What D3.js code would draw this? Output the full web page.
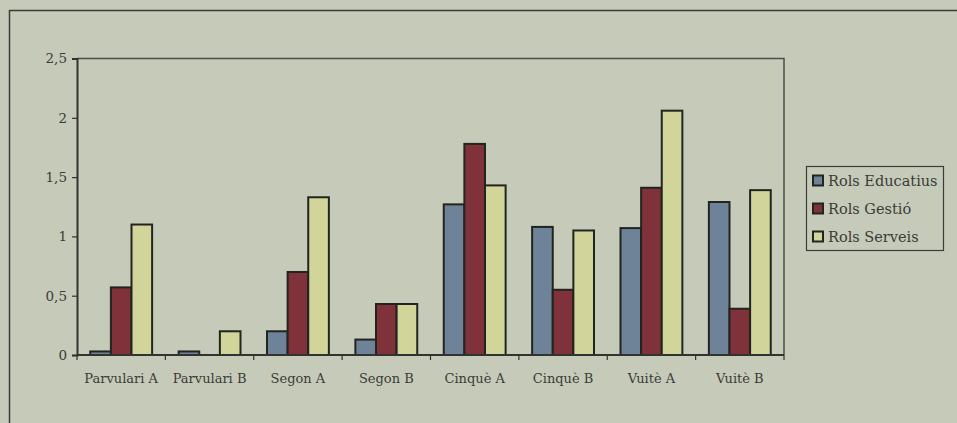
<!DOCTYPE html>
<html>
<head>
<meta charset="utf-8">
<script src="https://cdn.jsdelivr.net/npm/d3@7"></script>
<style>
  html, body { margin: 0; padding: 0; background: #c6cab9; }
  svg { display: block; }
</style>
</head>
<body>
<svg id="chart" width="957" height="423"></svg>
<script>
// Groups along the x axis
const categories = ["Parvulari A", "Parvulari B", "Segon A", "Segon B", "Cinquè A", "Cinquè B", "Vuitè A", "Vuitè B"];
// Series names, as shown in the legend
const seriesNames = ["Rols Educatius", "Rols Gestió", "Rols Serveis"];
// Values per series, one per group
const educatius = [0.03, 0.03, 0.20, 0.13, 1.27, 1.08, 1.07, 1.29];
const gestio    = [0.57, 0.00, 0.70, 0.43, 1.78, 0.55, 1.41, 0.39];
const serveis   = [1.10, 0.20, 1.33, 0.43, 1.43, 1.05, 2.06, 1.39];
// Y axis ticks and their labels
const yTicks = [0, 0.5, 1, 1.5, 2, 2.5];
const yTickLabels = ["0", "0,5", "1", "1,5", "2", "2,5"];

const seriesValues = [educatius, gestio, serveis];
const colors = ["#6f8398", "#7f323a", "#d2d59a"];
const stroke = "#222420";
const FONT = "DejaVu Serif";
const textColor = "#3a3c38";

const svg = d3.select("#chart");
const W = 957, H = 423;
const plot = { left: 77, right: 784, top: 58.5, bottom: 355 };

// Outer frame of the chart area
svg.append("rect")
  .attr("x", 9.5).attr("y", 10.5)
  .attr("width", W + 20).attr("height", H + 20)
  .attr("fill", "none").attr("stroke", "#3a3d38").attr("stroke-width", 1.5);

const x0 = d3.scaleBand().domain(categories).range([plot.left, plot.right]).padding(0);
const bw = x0.bandwidth();
const x1 = d3.scaleBand().domain(d3.range(seriesNames.length)).range([bw * 0.15, bw * 0.85]).padding(0);
const y = d3.scaleLinear().domain([0, 2.5]).range([plot.bottom, plot.top]);

// Plot area border (top and right)
svg.append("path")
  .attr("d", `M${plot.left},${plot.top}H${plot.right}V${plot.bottom}`)
  .attr("fill", "none").attr("stroke", "#4a4d48").attr("stroke-width", 1.5);

// Bars
const groups = svg.append("g").selectAll("g")
  .data(categories)
  .join("g")
  .attr("transform", d => `translate(${x0(d)},0)`);

groups.selectAll("rect")
  .data((c, ci) => seriesValues.map((vals, si) => ({ si, v: vals[ci] })))
  .join("rect")
  .filter(d => d.v > 0)
  .attr("x", d => x1(d.si))
  .attr("y", d => y(d.v))
  .attr("width", x1.bandwidth())
  .attr("height", d => y(0) - y(d.v))
  .attr("fill", d => colors[d.si])
  .attr("stroke", stroke)
  .attr("stroke-width", 2);

// Y axis
const yAxis = d3.axisLeft(y)
  .tickValues(yTicks)
  .tickFormat((d, i) => yTickLabels[i])
  .tickSize(5)
  .tickPadding(5);
const gy = svg.append("g").attr("transform", `translate(${plot.left},0)`).call(yAxis);
gy.attr("font-family", FONT).attr("font-size", 13.5);
gy.select(".domain").attr("stroke", "#30332f").attr("stroke-width", 2);
gy.selectAll(".tick line").attr("stroke", "#30332f").attr("stroke-width", 1.2);
gy.selectAll(".tick text").attr("fill", textColor);

// X axis with ticks at the group boundaries
const gx = svg.append("g").attr("transform", `translate(0,${plot.bottom})`);
gx.append("line")
  .attr("x1", plot.left).attr("x2", plot.right)
  .attr("stroke", "#30332f").attr("stroke-width", 2);
const boundaries = categories.map(c => x0(c)).concat([x0(categories[categories.length - 1]) + bw]);
gx.selectAll("line.tk").data(boundaries).join("line")
  .attr("class", "tk")
  .attr("x1", d => d).attr("x2", d => d)
  .attr("y1", 0).attr("y2", 5)
  .attr("stroke", "#30332f").attr("stroke-width", 1.2);
gx.selectAll("text").data(categories).join("text")
  .attr("x", d => x0(d) + bw / 2)
  .attr("y", 28)
  .attr("text-anchor", "middle")
  .attr("font-family", FONT)
  .attr("font-size", 13)
  .attr("fill", textColor)
  .text(d => d);

// Legend
const legend = svg.append("g");
legend.append("rect")
  .attr("x", 806.5).attr("y", 166.5)
  .attr("width", 137).attr("height", 84)
  .attr("fill", "none").attr("stroke", "#3a3d38").attr("stroke-width", 1.2);
const items = legend.selectAll("g").data(seriesNames).join("g")
  .attr("transform", (d, i) => `translate(813,${181 + i * 28})`);
items.append("rect")
  .attr("x", 0).attr("y", -5.5)
  .attr("width", 10).attr("height", 10)
  .attr("fill", (d, i) => colors[i])
  .attr("stroke", stroke).attr("stroke-width", 2);
items.append("text")
  .attr("x", 15).attr("y", 0)
  .attr("dy", "0.35em")
  .attr("font-family", FONT)
  .attr("font-size", 14.5)
  .attr("fill", textColor)
  .text(d => d);
</script>
</body>
</html>
